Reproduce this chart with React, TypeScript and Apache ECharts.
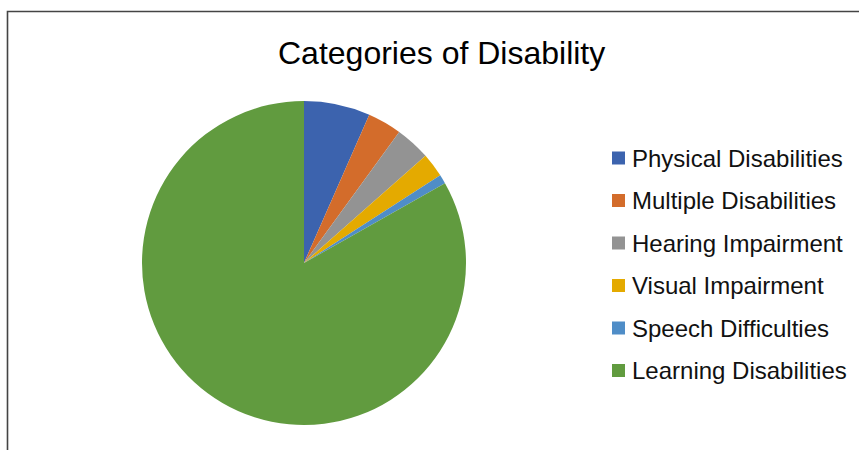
import React, { useEffect, useRef } from "react";
import * as echarts from "echarts";

const categories = [
  "Physical Disabilities",
  "Multiple Disabilities",
  "Hearing Impairment",
  "Visual Impairment",
  "Speech Difficulties",
  "Learning Disabilities",
];
const values = [6.6, 3.4, 3.5, 2.4, 0.9, 83.2];
const colors = ["#3C63AE", "#D36C2B", "#939393", "#E4AA00", "#4F8DC7", "#619B3F"];

const FONT = "'Liberation Sans', Arial, sans-serif";

export default function App() {
  const ref = useRef<HTMLDivElement>(null);
  useEffect(() => {
    if (!ref.current) return;
    const chart = echarts.init(ref.current, undefined, { renderer: "svg" });
    chart.setOption({
      animation: false,
      backgroundColor: "#ffffff",
      title: {
        text: "Categories of Disability",
        left: 273,
        top: 32,
        textStyle: { fontFamily: FONT, fontSize: 32, fontWeight: "normal", color: "#000" },
      },
      legend: {
        orient: "vertical",
        left: 612,
        top: 146,
        padding: 0,
        itemWidth: 13,
        itemHeight: 13,
        itemGap: 18.5,
        icon: "rect",
        textStyle: { fontFamily: FONT, fontSize: 24, color: "#111", lineHeight: 24, padding: [0, 0, 0, 2] },
        data: categories,
      },
      graphic: [
        {
          type: "rect",
          shape: { x: 7.5, y: 11.5, width: 900, height: 500 },
          style: { fill: "none", stroke: "#444", lineWidth: 1.6 },
          silent: true,
        },
      ],
      series: [
        {
          type: "pie",
          center: [304, 263],
          radius: 162,
          startAngle: 90,
          clockwise: true,
          label: { show: false },
          labelLine: { show: false },
          itemStyle: { borderWidth: 0 },
          emphasis: { disabled: true },
          data: categories.map((c, i) => ({ name: c, value: values[i], itemStyle: { color: colors[i] } })),
        },
      ],
    });
    return () => chart.dispose();
  }, []);
  return <div ref={ref} style={{ position: "fixed", left: 0, top: 0, width: 859, height: 450 }} />;
}
